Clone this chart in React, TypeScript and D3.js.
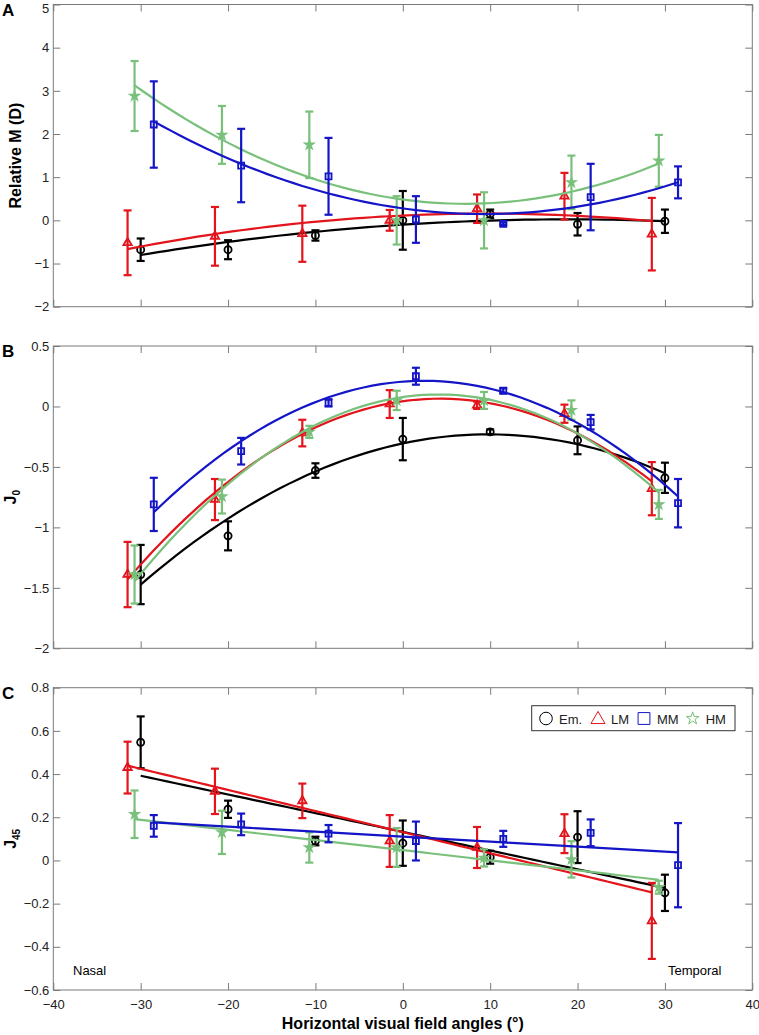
import React, { useEffect, useRef } from "react";
import * as d3 from "d3";

// horizontal visual field angles (deg)
const angles = [-30, -20, -10, 0, 10, 20, 30];
const xTicks = [-40, -30, -20, -10, 0, 10, 20, 30, 40];

// groups: Em., LM, MM, HM
const groupNames = ["Em.", "LM", "MM", "HM"];
const groupShift = [0, -1.5, 1.5, -0.7]; // small x dodge used in the figure
const groupColors = ["#000000", "#e3141b", "#1515c8", "#79c07b"];
const groupSymbols = ["circle", "triangle", "square", "star"];

// panel A - relative M (D)
const emM = [-0.68, -0.68, -0.35, 0.0, 0.15, -0.09, -0.02];
const emMErr = [0.26, 0.22, 0.12, 0.68, 0.1, 0.26, 0.27];
const lmM = [-0.52, -0.37, -0.31, 0.0, 0.27, 0.56, -0.32];
const lmMErr = [0.75, 0.68, 0.65, 0.24, 0.33, 0.54, 0.84];
const mmM = [2.22, 1.27, 1.02, 0.02, -0.08, 0.54, 0.88];
const mmMErr = [1.0, 0.85, 0.89, 0.54, 0.03, 0.77, 0.37];
const hmM = [2.88, 1.98, 1.75, 0.0, 0.0, 0.88, 1.38];
const hmMErr = [0.81, 0.67, 0.77, 0.56, 0.65, 0.62, 0.6];
const yTicksA = [-2, -1, 0, 1, 2, 3, 4, 5];

// panel B - J0
const emJ0 = [-1.39, -1.07, -0.53, -0.27, -0.21, -0.28, -0.59];
const emJ0Err = [0.245, 0.12, 0.06, 0.175, 0.02, 0.115, 0.125];
const lmJ0 = [-1.39, -0.77, -0.22, 0.02, 0.01, -0.06, -0.68];
const lmJ0Err = [0.27, 0.17, 0.11, 0.115, 0.03, 0.075, 0.22];
const mmJ0 = [-0.81, -0.37, 0.03, 0.25, 0.13, -0.13, -0.8];
const mmJ0Err = [0.22, 0.11, 0.03, 0.07, 0.02, 0.06, 0.2];
const hmJ0 = [-1.39, -0.745, -0.21, 0.05, 0.05, -0.03, -0.81];
const hmJ0Err = [0.24, 0.14, 0.05, 0.08, 0.07, 0.08, 0.12];
const yTicksB = [-2, -1.5, -1, -0.5, 0, 0.5];

// panel C - J45
const emJ45 = [0.547, 0.237, 0.09, 0.08, 0.015, 0.108, -0.15];
const emJ45Err = [0.12, 0.04, 0.02, 0.105, 0.03, 0.12, 0.084];
const lmJ45 = [0.43, 0.32, 0.276, 0.09, 0.06, 0.124, -0.28];
const lmJ45Err = [0.12, 0.105, 0.08, 0.12, 0.095, 0.09, 0.176];
const mmJ45 = [0.16, 0.167, 0.124, 0.09, 0.1, 0.128, -0.022];
const mmJ45Err = [0.05, 0.05, 0.04, 0.09, 0.037, 0.062, 0.195];
const hmJ45 = [0.214, 0.13, 0.06, 0.06, 0.012, 0.005, -0.124];
const hmJ45Err = [0.11, 0.1, 0.07, 0.09, 0.04, 0.084, 0.03];
const yTicksC = [-0.6, -0.4, -0.2, 0, 0.2, 0.4, 0.6, 0.8];

const FONT = "'Liberation Sans', Arial, Helvetica, sans-serif";

// least squares polynomial fit (same as the fitted curves in the figure)
function polyfit(xs: number[], ys: number[], deg: number) {
  const n = deg + 1;
  const A = Array.from({ length: n }, () => new Array(n + 1).fill(0));
  xs.forEach((x, k) => {
    for (let i = 0; i < n; i++) {
      for (let j = 0; j < n; j++) A[i][j] += Math.pow(x, i + j);
      A[i][n] += Math.pow(x, i) * ys[k];
    }
  });
  for (let i = 0; i < n; i++) {
    let p = i;
    for (let r = i + 1; r < n; r++) if (Math.abs(A[r][i]) > Math.abs(A[p][i])) p = r;
    [A[i], A[p]] = [A[p], A[i]];
    for (let r = 0; r < n; r++) {
      if (r === i) continue;
      const f = A[r][i] / A[i][i];
      for (let c = i; c <= n; c++) A[r][c] -= f * A[i][c];
    }
  }
  return A.map((row, i) => row[n] / row[i]);
}

const fmt = (d: number) => String(+d.toFixed(2)).replace("-", "\u2212");

const App = () => {
  const ref = useRef<SVGSVGElement | null>(null);

  useEffect(() => {
    const svg = d3.select(ref.current);
    svg.selectAll("*").remove();

    const left = 53.3;
    const right = 752.3;
    const x = d3.scaleLinear().domain([-40, 40]).range([left, right]);

    const panels = [
      { letter: "A", title: "Relative M (D)", sub: "", top: 4.5, bottom: 306.7, ticks: yTicksA, deg: 2,
        vals: [emM, lmM, mmM, hmM], errs: [emMErr, lmMErr, mmMErr, hmMErr] },
      { letter: "B", title: "J", sub: "0", top: 346, bottom: 648.3, ticks: yTicksB, deg: 2,
        vals: [emJ0, lmJ0, mmJ0, hmJ0], errs: [emJ0Err, lmJ0Err, mmJ0Err, hmJ0Err] },
      { letter: "C", title: "J", sub: "45", top: 687.7, bottom: 990, ticks: yTicksC, deg: 1,
        vals: [emJ45, lmJ45, mmJ45, hmJ45], errs: [emJ45Err, lmJ45Err, mmJ45Err, hmJ45Err] },
    ];

    const symbolType: any = {
      circle: d3.symbolCircle,
      triangle: d3.symbolTriangle,
      square: d3.symbolSquare,
      star: d3.symbolStar,
    };

    panels.forEach((p, pi) => {
      const y = d3.scaleLinear()
        .domain([p.ticks[0], p.ticks[p.ticks.length - 1]])
        .range([p.bottom, p.top]);
      const g = svg.append("g");

      // frame
      g.append("rect")
        .attr("x", left).attr("y", p.top)
        .attr("width", right - left).attr("height", p.bottom - p.top)
        .attr("fill", "white").attr("stroke", "#7a7a7a").attr("stroke-width", 1);

      const styleAxis = (sel: any) => {
        sel.select(".domain").remove();
        sel.selectAll(".tick line").attr("stroke", "#7a7a7a");
        sel.selectAll("text").attr("font-family", FONT).attr("font-size", 13).attr("fill", "#222");
      };

      // inward ticks on all four sides
      g.append("g").attr("transform", `translate(0,${p.bottom})`)
        .call(d3.axisBottom(x).tickValues(xTicks).tickSize(-7).tickPadding(10)
          .tickFormat(pi === 2 ? (fmt as any) : () => ""))
        .call(styleAxis);
      g.append("g").attr("transform", `translate(0,${p.top})`)
        .call(d3.axisTop(x).tickValues(xTicks).tickSize(-7).tickFormat(() => ""))
        .call(styleAxis);
      const ya = g.append("g").attr("transform", `translate(${left},0)`)
        .call(d3.axisLeft(y).tickValues(p.ticks).tickSize(-7).tickPadding(4).tickFormat(fmt as any))
        .call(styleAxis);
      if (pi === 0) {
        // top label of panel A sits at the page edge; keep it inside
        ya.selectAll(".tick text").filter((d: any) => d === 5).attr("dy", "0.62em");
      }
      g.append("g").attr("transform", `translate(${right},0)`)
        .call(d3.axisRight(y).tickValues(p.ticks).tickSize(-7).tickFormat(() => ""))
        .call(styleAxis);

      // panel letter
      g.append("text").attr("x", 2).attr("y", p.top + 11)
        .attr("font-family", FONT).attr("font-weight", "bold").attr("font-size", 17)
        .text(p.letter);

      // y title
      const cy = (p.top + p.bottom) / 2;
      const t = g.append("text")
        .attr("transform", `translate(${p.sub ? 16 : 21},${cy}) rotate(-90)`)
        .attr("text-anchor", "middle")
        .attr("font-family", FONT).attr("font-weight", "bold").attr("font-size", 16);
      t.append("tspan").text(p.title);
      if (p.sub) {
        t.append("tspan").attr("font-size", 10).attr("dy", 4).text(p.sub);
      }

      // series, drawn Em, LM, HM, MM
      [0, 1, 3, 2].forEach(gi => {
        const color = groupColors[gi];
        const xs = angles.map(a => a + groupShift[gi]);
        const ys = p.vals[gi];
        const es = p.errs[gi];
        const coef = polyfit(xs, ys, p.deg);
        const [x0, x1] = d3.extent(xs) as [number, number];
        const pts = d3.range(0, 61).map(k => {
          const xv = x0 + (x1 - x0) * k / 60;
          const yv = coef.reduce((s, c, i) => s + c * Math.pow(xv, i), 0);
          return [xv, yv];
        });
        g.append("path")
          .attr("d", d3.line().x(d => x(d[0])).y(d => y(d[1]))(pts as any))
          .attr("fill", "none").attr("stroke", color).attr("stroke-width", 2.2);

        const bars = g.append("g").attr("stroke", color).attr("stroke-width", 2.2).attr("fill", "none");
        xs.forEach((xv, i) => {
          const cx = x(xv);
          const yt = y(ys[i] + es[i]);
          const yb = y(ys[i] - es[i]);
          bars.append("line").attr("x1", cx).attr("x2", cx).attr("y1", yt).attr("y2", yb);
          bars.append("line").attr("x1", cx - 4).attr("x2", cx + 4).attr("y1", yt).attr("y2", yt);
          bars.append("line").attr("x1", cx - 4).attr("x2", cx + 4).attr("y1", yb).attr("y2", yb);
        });

        const sym = groupSymbols[gi];
        const size = sym === "star" ? 20 : sym === "triangle" ? 30 : sym === "square" ? 36 : 40;
        g.append("g").selectAll("path")
          .data(xs.map((xv, i) => [xv, ys[i]]))
          .join("path")
          .attr("transform", d => `translate(${x(d[0])},${y(d[1])})`)
          .attr("d", d3.symbol().type(symbolType[sym]).size(size)() as string)
          .attr("fill", sym === "star" ? color : "none")
          .attr("stroke", color).attr("stroke-width", 1.8);
      });

      if (pi === 2) {
        g.append("text").attr("x", 73).attr("y", 975)
          .attr("font-family", FONT).attr("font-size", 13).text("Nasal");
        g.append("text").attr("x", 668).attr("y", 975)
          .attr("font-family", FONT).attr("font-size", 13).text("Temporal");

        // legend
        const lg = g.append("g");
        lg.append("rect").attr("x", 531.7).attr("y", 705.7).attr("width", 203.3).attr("height", 25)
          .attr("fill", "white").attr("stroke", "#333").attr("stroke-width", 1);
        const lx = [546, 598, 644, 692.7];
        const lsize: any = { circle: 125, triangle: 85, square: 140, star: 50 };
        groupNames.forEach((name, gi) => {
          const sym = groupSymbols[gi];
          lg.append("path")
            .attr("transform", `translate(${lx[gi]},${sym === "triangle" ? 719.5 : 718.5})`)
            .attr("d", d3.symbol().type(symbolType[sym]).size(lsize[sym])() as string)
            .attr("fill", "none").attr("stroke", groupColors[gi]).attr("stroke-width", 1);
          lg.append("text").attr("x", lx[gi] + 13).attr("y", 723.5)
            .attr("font-family", FONT).attr("font-size", 13).attr("fill", "#222").text(name);
        });

        // x title
        g.append("text").attr("x", (left + right) / 2).attr("y", 1029)
          .attr("text-anchor", "middle")
          .attr("font-family", FONT).attr("font-weight", "bold").attr("font-size", 16)
          .text("Horizontal visual field angles (\u00b0)");
      }
    });
  }, []);

  return (
    <svg
      ref={ref}
      width={759}
      height={1035}
      style={{ position: "absolute", left: 0, top: 0, background: "white" }}
    />
  );
};

export default App;
